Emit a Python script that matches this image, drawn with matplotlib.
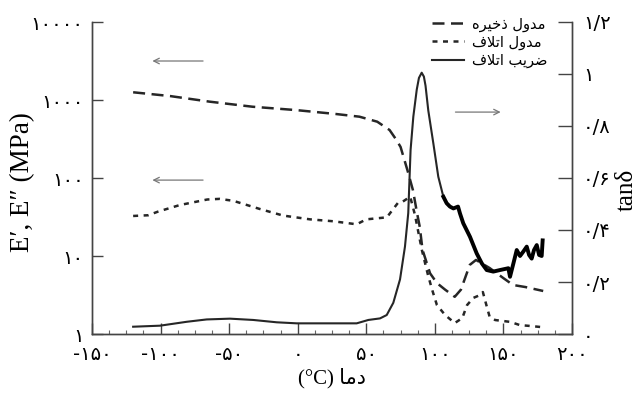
import numpy as np
import matplotlib
matplotlib.use("Agg")
import matplotlib.pyplot as plt
from matplotlib.ticker import FixedLocator, FixedFormatter

T_storage = [-120, -93, -64, -33, -1, 28, 45, 58, 67, 72, 75, 80, 84, 87, 89, 91,
             96.5, 101.5, 107.5, 114.5, 119, 122, 125.5, 130, 140, 150, 157, 166, 179]
E_storage = [1256, 1123, 951, 820, 742, 661, 611, 527, 412, 307, 250, 126, 70, 35.6,
             23.6, 12, 6.0, 4.5, 3.7, 3.0, 3.7, 5.2, 7.7, 8.9, 7.0, 5.2, 4.25, 4.0, 3.56]

T_loss = [-120, -109, -102, -86, -66, -57, -47, -27.5, -10.7, 9, 25.7, 43, 50, 65, 73,
          76, 82, 85.5, 90.5, 95, 98, 101.5, 107.5, 114.5, 120, 123.5, 128, 133, 135,
          138, 140, 144, 155, 162, 169, 177]
E_loss = [32.6, 33.3, 37, 45, 53, 54, 51, 40, 33, 29.5, 27.9, 25.5, 29.5, 31.3, 47.8,
          49, 57.6, 33.6, 12, 5.7, 3.7, 2.35, 1.75, 1.38, 1.6, 2.35, 2.9, 3.16, 3.45,
          2.2, 1.65, 1.51, 1.43, 1.3, 1.27, 1.23]

T_tan = [-120, -100.4, -80.9, -66.4, -49.4, -32.4, -15.3, -0.7, 21.1, 43, 51.5, 60,
         64.9, 69.7, 74.6, 78.2, 80.6, 82.3, 84.3, 86.8, 88.4, 90.4, 92, 93.2, 95.2,
         98.9, 102.5, 106.2, 108.6, 111, 113.5, 116.9, 118.3, 120.7, 125.6, 130.5,
         134.2, 137.8, 142.6, 147.5, 153.6, 154.8, 157.2, 159.7, 162.1, 164.5, 167,
         168.7, 170.6, 172.3, 174.3, 176, 177.9, 178.6]
tan_delta = [0.028, 0.032, 0.047, 0.056, 0.059, 0.054, 0.045, 0.041, 0.041, 0.041,
             0.054, 0.06, 0.073, 0.12, 0.21, 0.336, 0.465, 0.708, 0.836, 0.94, 0.985,
             1.005, 0.99, 0.955, 0.86, 0.733, 0.605, 0.528, 0.503, 0.49, 0.483, 0.49,
             0.464, 0.426, 0.374, 0.31, 0.272, 0.246, 0.24, 0.246, 0.253, 0.22, 0.27,
             0.323, 0.3, 0.317, 0.336, 0.304, 0.29, 0.323, 0.342, 0.304, 0.3, 0.36]

x_ticks = [-150, -100, -50, 0, 50, 100, 150, 200]
e_ticks = [1, 10, 100, 1000, 10000]
tan_ticks = [0, 0.2, 0.4, 0.6, 0.8, 1.0, 1.2]

# legend / axis text, pre-shaped Persian (visual order)
lbl_storage = "\uFEE9\uFEAE\uFEF4\uFEA7\uFEAB \uFEDD\uFEED\uFEAA\uFEE3"
lbl_loss = "\uFED1\uFEFC\uFE97\uFE8D \uFEDD\uFEED\uFEAA\uFEE3"
lbl_tan = "\uFED1\uFEFC\uFE97\uFE8D \uFE90\uFEF3\uFEAE\uFEBF"
xlabel = "(°C) \uFE8E\uFEE3\uFEA9"

FA = str.maketrans("0123456789.", "۰۱۲۳۴۵۶۷۸۹/")


def fa(v):
    s = ("%g" % v)
    return s.translate(FA)


ink = "#262626"
fig = plt.figure(figsize=(6.42, 3.96), dpi=100)
ax = fig.add_axes([92 / 642, 1 - 334 / 396, 480 / 642, 312 / 396])
ax2 = ax.twinx()

l1, = ax.plot(T_storage, E_storage, color=ink, lw=1.8, ls=(0, (4.8, 2.6)))
l2, = ax.plot(T_loss, E_loss, color=ink, lw=1.8, ls=(0, (2.0, 2.2)))
T_tan = np.array(T_tan)
tan_delta = np.array(tan_delta)
l3, = ax2.plot(T_tan, tan_delta, color=ink, lw=1.5)
hot = T_tan >= 104
ax2.plot(T_tan[hot], tan_delta[hot], color="black", lw=2.8)

ax.set_yscale("log")
ax.set_xlim(-150, 200)
ax.set_ylim(1, 10000)
ax2.set_ylim(0, 1.2)

ax.xaxis.set_major_locator(FixedLocator(x_ticks))
ax.xaxis.set_major_formatter(FixedFormatter([fa(v) for v in x_ticks]))
ax.xaxis.set_minor_locator(FixedLocator(np.arange(-150, 201, 12.5)))
ax.yaxis.set_major_locator(FixedLocator(e_ticks))
ax.yaxis.set_major_formatter(FixedFormatter([fa(v) for v in e_ticks]))
ax.yaxis.set_minor_locator(FixedLocator([]))
ax2.yaxis.set_major_locator(FixedLocator(tan_ticks))
ax2.yaxis.set_major_formatter(FixedFormatter([fa(v) for v in tan_ticks]))

for a in (ax, ax2):
    a.spines["top"].set_visible(False)
    for s in a.spines.values():
        s.set_color("#444444")
        s.set_linewidth(1.0)
ax.tick_params(axis="y", which="major", direction="in", length=8, width=1,
               color="#444444", labelsize=14, pad=6)
ax.tick_params(axis="x", which="major", direction="in", length=8, width=1,
               color="#444444", labelsize=14, pad=8)
ax.tick_params(axis="x", which="minor", direction="in", length=3, width=0.8,
               color="#666666")
ax2.tick_params(axis="y", direction="in", length=10, width=1, color="#444444",
                labelsize=14, pad=8)

ax.set_xlabel(xlabel, family=["Liberation Serif", "DejaVu Sans"], fontsize=15,
              labelpad=3)
ax.set_ylabel("E′, E″ (MPa)", family="Liberation Serif", fontsize=19.5)
ax.yaxis.set_label_coords(-0.119, 0.487)
ax2.set_ylabel("tanδ", family="Liberation Serif", fontsize=18)
ax2.yaxis.set_label_coords(1.092, 0.462)

arrow = dict(arrowstyle="->", color="#777777", lw=0.9)
ax.annotate("", xy=(-108, 3162), xytext=(-67, 3162), arrowprops=arrow)
ax.annotate("", xy=(-108, 94), xytext=(-67, 94), arrowprops=arrow)
ax.annotate("", xy=(150, 700), xytext=(113, 700), arrowprops=arrow)

leg = ax.legend([l1, l2, l3], [lbl_storage, lbl_loss, lbl_tan], loc="upper right",
                bbox_to_anchor=(0.975, 1.06), frameon=False, fontsize=10.5,
                handlelength=2.2, labelspacing=0.2, handletextpad=0.5)

fig.savefig("out.png", dpi=100)
